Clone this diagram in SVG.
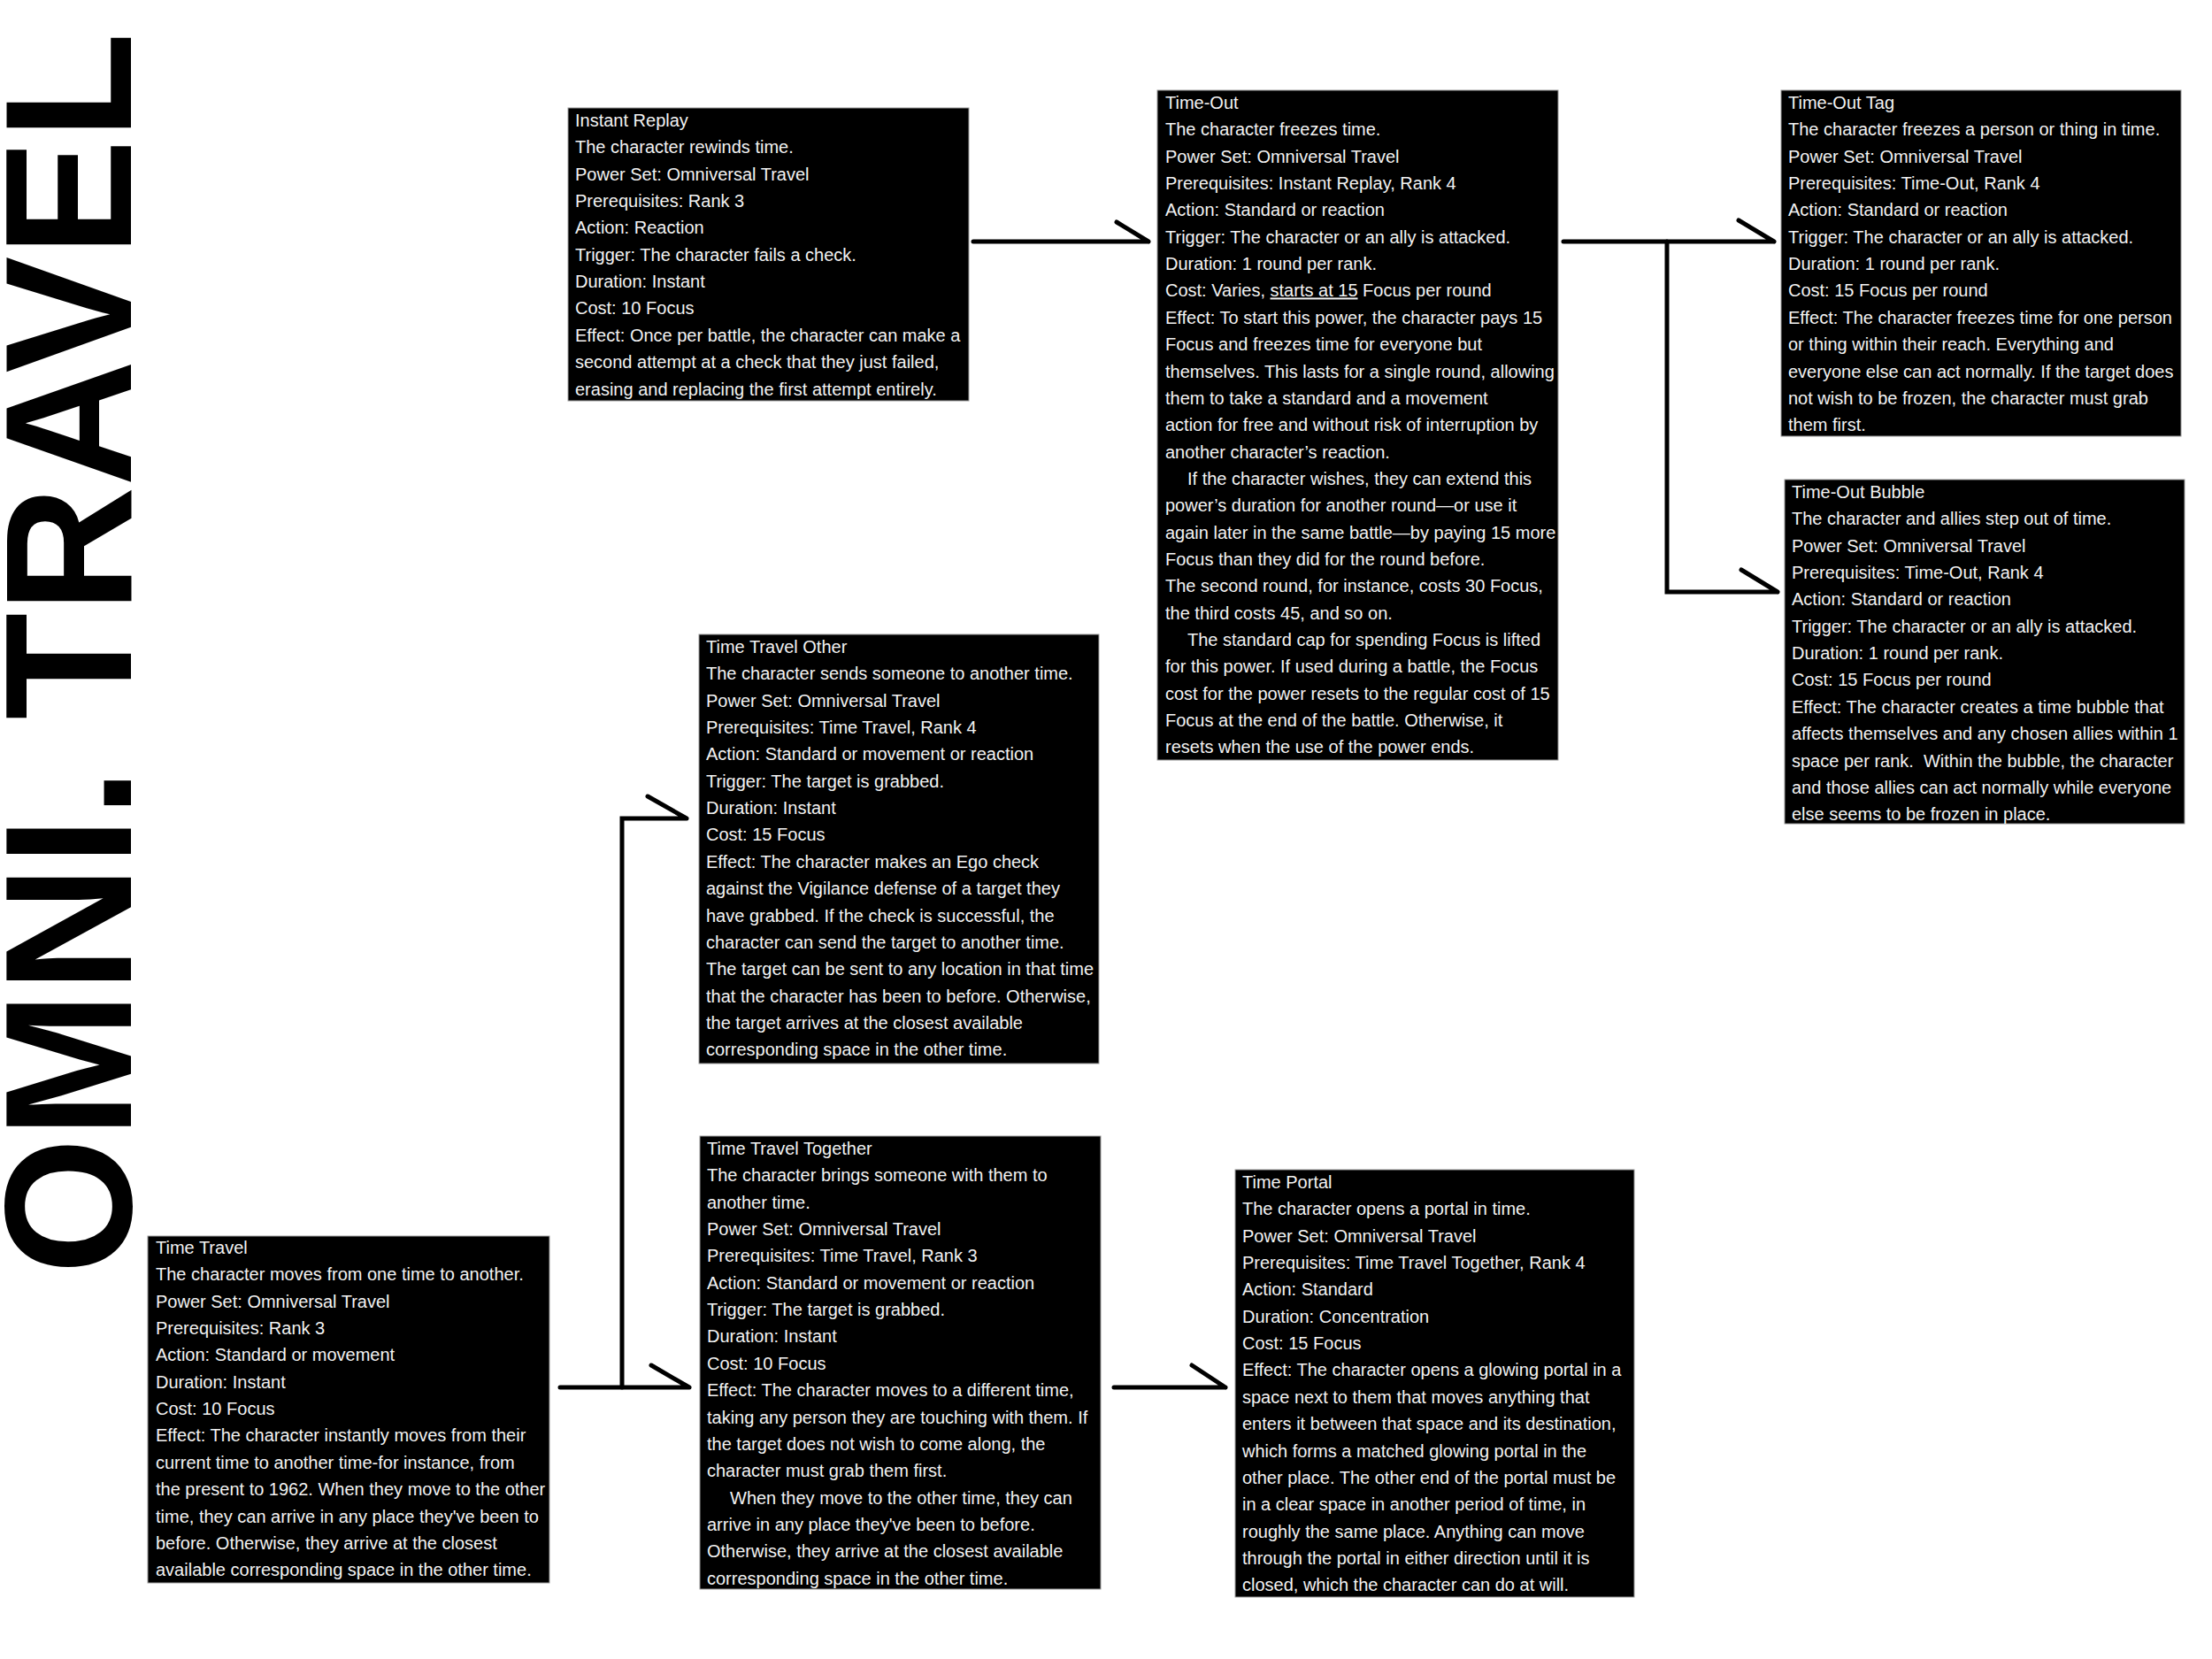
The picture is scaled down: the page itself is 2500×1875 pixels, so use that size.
<svg xmlns="http://www.w3.org/2000/svg" width="2500" height="1875" viewBox="0 0 2500 1875">
<style>
.box{fill:#000;stroke:#9a9a9a;stroke-width:1}
.t{font-family:"Liberation Sans",Arial,sans-serif;font-size:20px;fill:#f2f2f2}
.c{fill:none;stroke:#000;stroke-width:5;stroke-linecap:round;stroke-linejoin:miter}
.title{font-family:"Liberation Sans",Arial,sans-serif;font-weight:bold;font-size:204px;fill:#000}
</style>
<rect width="2500" height="1875" fill="#fff"/>
<text class="title" transform="translate(148,1440) rotate(-90) scale(0.97,1)">OMNI. TRAVEL</text>

<g id="connectors">
<path class="c" d="M1100,273 H1298 M1262,251 L1298,273"/>
<path class="c" d="M1767,273 H2005 M1965,249 L2005,273"/>
<path class="c" d="M1884,273 V669 H2009 M1968,644 L2009,669"/>
<path class="c" d="M633,1568 H779 M736,1543 L779,1568"/>
<path class="c" d="M703,1568 V925 H776 M732,900 L776,925"/>
<path class="c" d="M1259,1568 H1385 M1347,1543 L1385,1568"/>
</g>

<g id="instant-replay">
<rect class="box" x="642" y="122" width="453" height="331"/>
<text class="t" x="650" y="143">
<tspan x="650" dy="0">Instant Replay</tspan>
<tspan x="650" dy="30.35">The character rewinds time.</tspan>
<tspan x="650" dy="30.35">Power Set: Omniversal Travel</tspan>
<tspan x="650" dy="30.35">Prerequisites: Rank 3</tspan>
<tspan x="650" dy="30.35">Action: Reaction</tspan>
<tspan x="650" dy="30.35">Trigger: The character fails a check.</tspan>
<tspan x="650" dy="30.35">Duration: Instant</tspan>
<tspan x="650" dy="30.35">Cost: 10 Focus</tspan>
<tspan x="650" dy="30.35">Effect: Once per battle, the character can make a</tspan>
<tspan x="650" dy="30.35">second attempt at a check that they just failed,</tspan>
<tspan x="650" dy="30.35">erasing and replacing the first attempt entirely.</tspan>
</text>
</g>

<g id="time-out">
<rect class="box" x="1308" y="102" width="453" height="757"/>
<text class="t" x="1317" y="123">
<tspan x="1317" dy="0">Time-Out</tspan>
<tspan x="1317" dy="30.35">The character freezes time.</tspan>
<tspan x="1317" dy="30.35">Power Set: Omniversal Travel</tspan>
<tspan x="1317" dy="30.35">Prerequisites: Instant Replay, Rank 4</tspan>
<tspan x="1317" dy="30.35">Action: Standard or reaction</tspan>
<tspan x="1317" dy="30.35">Trigger: The character or an ally is attacked.</tspan>
<tspan x="1317" dy="30.35">Duration: 1 round per rank.</tspan>
<tspan x="1317" dy="30.35">Cost: Varies, <tspan text-decoration="underline">starts at 15</tspan> Focus per round</tspan>
<tspan x="1317" dy="30.35">Effect: To start this power, the character pays 15</tspan>
<tspan x="1317" dy="30.35">Focus and freezes time for everyone but</tspan>
<tspan x="1317" dy="30.35">themselves. This lasts for a single round, allowing</tspan>
<tspan x="1317" dy="30.35">them to take a standard and a movement</tspan>
<tspan x="1317" dy="30.35">action for free and without risk of interruption by</tspan>
<tspan x="1317" dy="30.35">another character’s reaction.</tspan>
<tspan x="1342" dy="30.35">If the character wishes, they can extend this</tspan>
<tspan x="1317" dy="30.35">power’s duration for another round—or use it</tspan>
<tspan x="1317" dy="30.35">again later in the same battle—by paying 15 more</tspan>
<tspan x="1317" dy="30.35">Focus than they did for the round before.</tspan>
<tspan x="1317" dy="30.35">The second round, for instance, costs 30 Focus,</tspan>
<tspan x="1317" dy="30.35">the third costs 45, and so on.</tspan>
<tspan x="1342" dy="30.35">The standard cap for spending Focus is lifted</tspan>
<tspan x="1317" dy="30.35">for this power. If used during a battle, the Focus</tspan>
<tspan x="1317" dy="30.35">cost for the power resets to the regular cost of 15</tspan>
<tspan x="1317" dy="30.35">Focus at the end of the battle. Otherwise, it</tspan>
<tspan x="1317" dy="30.35">resets when the use of the power ends.</tspan>
</text>
</g>

<g id="time-out-tag">
<rect class="box" x="2013" y="102" width="452" height="391"/>
<text class="t" x="2021" y="123">
<tspan x="2021" dy="0">Time-Out Tag</tspan>
<tspan x="2021" dy="30.35">The character freezes a person or thing in time.</tspan>
<tspan x="2021" dy="30.35">Power Set: Omniversal Travel</tspan>
<tspan x="2021" dy="30.35">Prerequisites: Time-Out, Rank 4</tspan>
<tspan x="2021" dy="30.35">Action: Standard or reaction</tspan>
<tspan x="2021" dy="30.35">Trigger: The character or an ally is attacked.</tspan>
<tspan x="2021" dy="30.35">Duration: 1 round per rank.</tspan>
<tspan x="2021" dy="30.35">Cost: 15 Focus per round</tspan>
<tspan x="2021" dy="30.35">Effect: The character freezes time for one person</tspan>
<tspan x="2021" dy="30.35">or thing within their reach. Everything and</tspan>
<tspan x="2021" dy="30.35">everyone else can act normally. If the target does</tspan>
<tspan x="2021" dy="30.35">not wish to be frozen, the character must grab</tspan>
<tspan x="2021" dy="30.35">them first.</tspan>
</text>
</g>

<g id="time-out-bubble">
<rect class="box" x="2017" y="542" width="452" height="389"/>
<text class="t" x="2025" y="563">
<tspan x="2025" dy="0">Time-Out Bubble</tspan>
<tspan x="2025" dy="30.35">The character and allies step out of time.</tspan>
<tspan x="2025" dy="30.35">Power Set: Omniversal Travel</tspan>
<tspan x="2025" dy="30.35">Prerequisites: Time-Out, Rank 4</tspan>
<tspan x="2025" dy="30.35">Action: Standard or reaction</tspan>
<tspan x="2025" dy="30.35">Trigger: The character or an ally is attacked.</tspan>
<tspan x="2025" dy="30.35">Duration: 1 round per rank.</tspan>
<tspan x="2025" dy="30.35">Cost: 15 Focus per round</tspan>
<tspan x="2025" dy="30.35">Effect: The character creates a time bubble that</tspan>
<tspan x="2025" dy="30.35">affects themselves and any chosen allies within 1</tspan>
<tspan x="2025" dy="30.35" xml:space="preserve">space per rank.  Within the bubble, the character</tspan>
<tspan x="2025" dy="30.35">and those allies can act normally while everyone</tspan>
<tspan x="2025" dy="30.35">else seems to be frozen in place.</tspan>
</text>
</g>

<g id="time-travel-other">
<rect class="box" x="790" y="717" width="452" height="485"/>
<text class="t" x="798" y="738">
<tspan x="798" dy="0">Time Travel Other</tspan>
<tspan x="798" dy="30.35">The character sends someone to another time.</tspan>
<tspan x="798" dy="30.35">Power Set: Omniversal Travel</tspan>
<tspan x="798" dy="30.35">Prerequisites: Time Travel, Rank 4</tspan>
<tspan x="798" dy="30.35">Action: Standard or movement or reaction</tspan>
<tspan x="798" dy="30.35">Trigger: The target is grabbed.</tspan>
<tspan x="798" dy="30.35">Duration: Instant</tspan>
<tspan x="798" dy="30.35">Cost: 15 Focus</tspan>
<tspan x="798" dy="30.35">Effect: The character makes an Ego check</tspan>
<tspan x="798" dy="30.35">against the Vigilance defense of a target they</tspan>
<tspan x="798" dy="30.35">have grabbed. If the check is successful, the</tspan>
<tspan x="798" dy="30.35">character can send the target to another time.</tspan>
<tspan x="798" dy="30.35">The target can be sent to any location in that time</tspan>
<tspan x="798" dy="30.35">that the character has been to before. Otherwise,</tspan>
<tspan x="798" dy="30.35">the target arrives at the closest available</tspan>
<tspan x="798" dy="30.35">corresponding space in the other time.</tspan>
</text>
</g>

<g id="time-travel-together">
<rect class="box" x="791" y="1284" width="453" height="512"/>
<text class="t" x="799" y="1305">
<tspan x="799" dy="0">Time Travel Together</tspan>
<tspan x="799" dy="30.35">The character brings someone with them to</tspan>
<tspan x="799" dy="30.35">another time.</tspan>
<tspan x="799" dy="30.35">Power Set: Omniversal Travel</tspan>
<tspan x="799" dy="30.35">Prerequisites: Time Travel, Rank 3</tspan>
<tspan x="799" dy="30.35">Action: Standard or movement or reaction</tspan>
<tspan x="799" dy="30.35">Trigger: The target is grabbed.</tspan>
<tspan x="799" dy="30.35">Duration: Instant</tspan>
<tspan x="799" dy="30.35">Cost: 10 Focus</tspan>
<tspan x="799" dy="30.35">Effect: The character moves to a different time,</tspan>
<tspan x="799" dy="30.35">taking any person they are touching with them. If</tspan>
<tspan x="799" dy="30.35">the target does not wish to come along, the</tspan>
<tspan x="799" dy="30.35">character must grab them first.</tspan>
<tspan x="825" dy="30.35">When they move to the other time, they can</tspan>
<tspan x="799" dy="30.35">arrive in any place they've been to before.</tspan>
<tspan x="799" dy="30.35">Otherwise, they arrive at the closest available</tspan>
<tspan x="799" dy="30.35">corresponding space in the other time.</tspan>
</text>
</g>

<g id="time-portal">
<rect class="box" x="1396" y="1322" width="451" height="483"/>
<text class="t" x="1404" y="1343">
<tspan x="1404" dy="0">Time Portal</tspan>
<tspan x="1404" dy="30.35">The character opens a portal in time.</tspan>
<tspan x="1404" dy="30.35">Power Set: Omniversal Travel</tspan>
<tspan x="1404" dy="30.35">Prerequisites: Time Travel Together, Rank 4</tspan>
<tspan x="1404" dy="30.35">Action: Standard</tspan>
<tspan x="1404" dy="30.35">Duration: Concentration</tspan>
<tspan x="1404" dy="30.35">Cost: 15 Focus</tspan>
<tspan x="1404" dy="30.35">Effect: The character opens a glowing portal in a</tspan>
<tspan x="1404" dy="30.35">space next to them that moves anything that</tspan>
<tspan x="1404" dy="30.35">enters it between that space and its destination,</tspan>
<tspan x="1404" dy="30.35">which forms a matched glowing portal in the</tspan>
<tspan x="1404" dy="30.35">other place. The other end of the portal must be</tspan>
<tspan x="1404" dy="30.35">in a clear space in another period of time, in</tspan>
<tspan x="1404" dy="30.35">roughly the same place. Anything can move</tspan>
<tspan x="1404" dy="30.35">through the portal in either direction until it is</tspan>
<tspan x="1404" dy="30.35">closed, which the character can do at will.</tspan>
</text>
</g>

<g id="time-travel">
<rect class="box" x="167" y="1397" width="454" height="392"/>
<text class="t" x="176" y="1417">
<tspan x="176" dy="0">Time Travel</tspan>
<tspan x="176" dy="30.35">The character moves from one time to another.</tspan>
<tspan x="176" dy="30.35">Power Set: Omniversal Travel</tspan>
<tspan x="176" dy="30.35">Prerequisites: Rank 3</tspan>
<tspan x="176" dy="30.35">Action: Standard or movement</tspan>
<tspan x="176" dy="30.35">Duration: Instant</tspan>
<tspan x="176" dy="30.35">Cost: 10 Focus</tspan>
<tspan x="176" dy="30.35">Effect: The character instantly moves from their</tspan>
<tspan x="176" dy="30.35">current time to another time-for instance, from</tspan>
<tspan x="176" dy="30.35">the present to 1962. When they move to the other</tspan>
<tspan x="176" dy="30.35">time, they can arrive in any place they've been to</tspan>
<tspan x="176" dy="30.35">before. Otherwise, they arrive at the closest</tspan>
<tspan x="176" dy="30.35">available corresponding space in the other time.</tspan>
</text>
</g>
</svg>
